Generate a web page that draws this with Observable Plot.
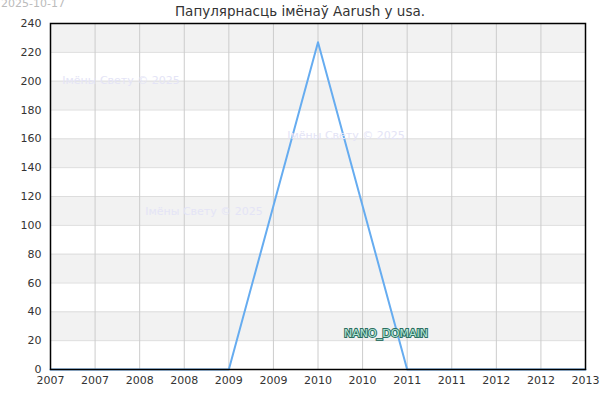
<!DOCTYPE html>
<html>
<head>
<meta charset="utf-8">
<script src="https://cdn.jsdelivr.net/npm/d3@7"></script>
<script src="https://cdn.jsdelivr.net/npm/@observablehq/plot@0.6"></script>
<style>
  body { margin: 0; background: #fff; font-family: "DejaVu Sans", sans-serif; }
  #wrap { position: relative; width: 600px; height: 400px; overflow: hidden; }
  .ov { position: absolute; white-space: nowrap; pointer-events: none; }
  #date { left: 1px; top: -3px; font-size: 11px; color: #bbb; }
  #title { left: 0; width: 600px; top: 3px; text-align: center; font-size: 13.5px; color: #333; }
  .wm { font-size: 11px; color: #e4e4f6; transform: translate(-50%, -50%); }
  #nano { font-size: 11px; font-weight: normal; color: #b4e6d8; -webkit-text-stroke: 2px #2d6e60; paint-order: stroke fill; transform: translate(-50%, -50%); }
</style>
</head>
<body>
<div id="wrap"></div>
<script>
const years = [2007, 2008, 2009, 2010, 2011, 2012, 2013];
const counts = [0, 0, 0, 227, 0, 0, 0];
const xTicks = [2007, 2007.5, 2008, 2008.5, 2009, 2009.5, 2010, 2010.5, 2011, 2011.5, 2012, 2012.5, 2013];
const yTicks = [0, 20, 40, 60, 80, 100, 120, 140, 160, 180, 200, 220, 240];
const bandStarts = yTicks.filter((v, i) => i % 2 === 1 && v < 240);
const titleText = "Папулярнасць імёнаў Aarush у usa.";
const dateText = "2025-10-17";
const watermarkText = "Імёны Свету © 2025";
const nanoText = "NANO_DOMAIN";

const data = years.map((y, i) => ({year: y, count: counts[i]}));
const bands = bandStarts.map(v => ({y1: v, y2: v + 20}));

const chart = Plot.plot({
  width: 600,
  height: 400,
  marginLeft: 50,
  marginRight: 15,
  marginTop: 23,
  marginBottom: 31,
  style: {fontFamily: "DejaVu Sans, sans-serif", fontSize: "11px", color: "#333", background: "#fff"},
  x: {domain: [2007, 2013], ticks: xTicks, tickFormat: d => String(Math.floor(d)), tickSize: 0, tickPadding: 7, label: null},
  y: {domain: [0, 240], ticks: yTicks, tickSize: 0, tickPadding: 9, label: null},
  marks: [
    Plot.rect(bands, {y1: "y1", y2: "y2", fill: "#f2f2f2"}),
    Plot.gridY(yTicks, {stroke: "#dddddd", strokeOpacity: 1}),
    Plot.gridX(xTicks, {stroke: "#cccccc", strokeOpacity: 1}),
    Plot.line(data, {x: "year", y: "count", stroke: "#66acf0", strokeWidth: 2}),
    Plot.frame({stroke: "#000", strokeWidth: 1.5})
  ]
});

const wrap = document.getElementById("wrap");
wrap.appendChild(chart);

function addOv(id, cls, text, left, top) {
  const d = document.createElement("div");
  if (id) d.id = id;
  d.className = "ov" + (cls ? " " + cls : "");
  d.textContent = text;
  if (left != null) d.style.left = left + "px";
  if (top != null) d.style.top = top + "px";
  wrap.appendChild(d);
}
addOv("date", "", dateText);
addOv("title", "", titleText);
addOv(null, "wm", watermarkText, 121, 80);
addOv(null, "wm", watermarkText, 346, 135);
addOv(null, "wm", watermarkText, 204, 211);
addOv("nano", "", nanoText, 386, 333);
</script>
</body>
</html>
